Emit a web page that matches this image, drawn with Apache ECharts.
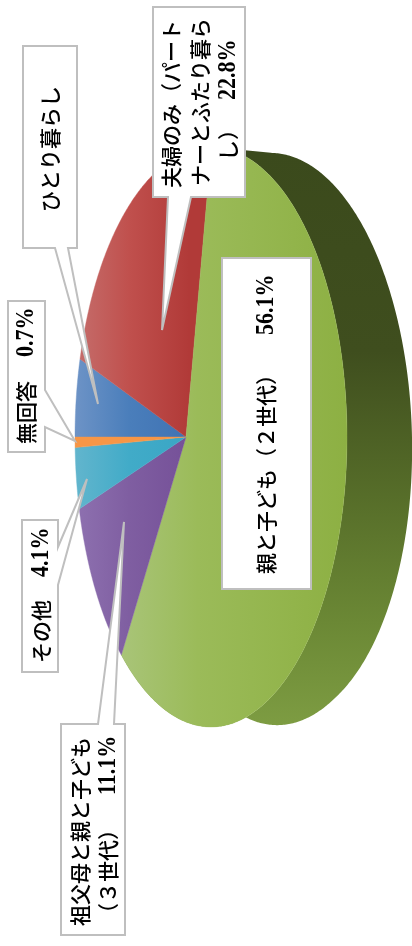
<!DOCTYPE html>
<html lang="ja">
<head>
<meta charset="utf-8">
<title>世帯構成</title>
<style>html,body{margin:0;padding:0;background:#fff}#chart{width:412px;height:946px}</style>
<script src="https://cdn.jsdelivr.net/npm/echarts@6/dist/echarts.min.js"></script>
</head>
<body>
<div id="chart"></div>
<script>
// Household composition, percent of respondents, clockwise from the left edge of the disc.
const categories = ['ひとり暮らし', '夫婦のみ（パートナーとふたり暮らし）', '親と子ども（２世代）', '祖父母と親と子ども（３世代）', 'その他', '無回答'];
const shares = [5.2, 22.8, 56.1, 11.1, 4.1, 0.7];

// Face shading per slice, left to right across the disc.
const faceStops = [
  ['#6d93c6', '#4a7ebb', '#3f72b3'],
  ['#c56e6c', '#c0504d', '#b13a38'],
  ['#abc67e', '#9bbb59', '#8db043'],
  ['#8e71b0', '#7f5ea1', '#755098'],
  ['#62b5cd', '#41abc8', '#39a6c5'],
  ['#f79646', '#f79646', '#f79646']
];

// Perspective view of a flat disc: the right-hand side is nearer the viewer.
const view = { cx: 186, cy: 437, a: 131.4, b: 285, k: 0.1838, depth: 65, depthScale: 0.98, leanX: 0.02, sag: 0.07, sagTo: 330 };
const TAU = Math.PI * 2;
const total = shares.reduce((s, v) => s + v, 0);

function rim(phi) {
  const u = -Math.cos(phi), v = -Math.sin(phi), d = 1 - view.k * u;
  return [view.cx + view.a * u / d, view.cy + view.b * v / d];
}
// The base of the disc sits slightly askew from the top face and sags toward the viewer.
function lowerRim(phi) {
  const p = rim(phi);
  const x = p[0] + view.depth, y = view.cy + (p[1] - view.cy) * view.depthScale;
  const t = Math.max(0, (y - view.cy) / (view.b * view.depthScale));
  return [x + view.leanX * (y - view.cy), y + view.sag * t * Math.max(0, view.sagTo - x)];
}
function span(index) {
  let before = 0;
  for (let i = 0; i < index; i++) before += shares[i];
  return [before / total * TAU, (before + shares[index]) / total * TAU];
}
function arc(fn, from, to) {
  const n = Math.max(4, Math.ceil(Math.abs(to - from) / 0.01));
  const pts = [];
  for (let i = 0; i <= n; i++) pts.push(fn(from + (to - from) * i / n));
  return pts;
}

function renderFace(params, api) {
  const s = span(params.dataIndex);
  const pts = [[view.cx, view.cy]].concat(arc(rim, s[0], s[1]));
  const c = faceStops[params.dataIndex];
  const grad = {
    type: 'linear', global: true, x: 75, y: 0, x2: 347, y2: 0,
    colorStops: params.dataIndex === 2
      ? [{ offset: 0.12, color: c[0] }, { offset: 0.45, color: c[1] }, { offset: 1, color: c[2] }]
      : [{ offset: 0, color: c[0] }, { offset: 0.2, color: c[1] }, { offset: 0.42, color: c[2] }]
  };
  return { type: 'polygon', shape: { points: pts }, style: { fill: grad, stroke: grad, lineWidth: 0.4 } };
}

// The wall is only visible below the largest slice.
function renderWall(params, api) {
  const s = span(api.value(0));
  const pts = arc(rim, s[0], s[1]).concat(arc(lowerRim, s[1], s[0]));
  return {
    type: 'polygon', shape: { points: pts },
    style: {
      fill: {
        type: 'linear', global: true, x: 0, y: 150, x2: 0, y2: 725,
        colorStops: [
          { offset: 0, color: '#3b4a1c' }, { offset: 0.35, color: '#3f4e1e' },
          { offset: 0.6, color: '#566d29' }, { offset: 0.82, color: '#6b8835' },
          { offset: 1, color: '#7d9c42' }
        ]
      }
    }
  };
}

// Callout boxes: each text run starts at its lower end and reads upward.
const pct = v => v + '%';
const callouts = [
  { outline: [[23,46],[77,46],[77,248],[68,248],[98,404],[55,248],[23,248]],
    runs: [{ t: categories[0], x: 50, y: 212 }] },
  { outline: [[153,7],[245,7],[245,197],[191,197],[162,330],[168,197],[153,197]],
    runs: [{ t: '夫婦のみ（パート', x: 171, y: 188 }, { t: 'ナーとふたり暮ら', x: 200, y: 186 },
           { t: 'し）', x: 228, y: 161 }, { t: pct(shares[1]), x: 228, y: 100, num: true }] },
  { outline: [[222,258],[311,258],[311,589],[222,589]],
    runs: [{ t: categories[2], x: 266, y: 574 }, { t: pct(shares[2]), x: 266, y: 335, num: true }] },
  { outline: [[8,301],[45,301],[45,390],[75,441],[45,427],[45,452],[8,452]],
    runs: [{ t: categories[5], x: 26, y: 444 }, { t: pct(shares[5]), x: 26, y: 357, num: true }] },
  { outline: [[22,520],[58,520],[58,547],[87,479],[58,585],[58,672],[22,672]],
    runs: [{ t: categories[4], x: 41, y: 663 }, { t: pct(shares[4]), x: 41, y: 577, num: true }] },
  { outline: [[61,724],[98,724],[124,522],[114,724],[125,724],[125,935],[61,935]],
    runs: [{ t: '祖父母と親と子ども', x: 80, y: 926 }, { t: '（３世代）', x: 108, y: 924 },
           { t: pct(shares[3]), x: 108, y: 795, num: true }] }
];

const elements = [];
callouts.forEach(function (c) {
  elements.push({
    type: 'polygon', z: 100, shape: { points: c.outline },
    style: { fill: '#fff', stroke: '#bfbfbf', lineWidth: 2 }
  });
  c.runs.forEach(function (r) {
    elements.push({
      type: 'text', z: 101, x: r.x, y: r.y, rotation: Math.PI / 2,
      scaleY: r.num ? 1.18 : 1,
      style: {
        text: r.t, fill: '#000', align: 'left', verticalAlign: 'middle',
        fontSize: r.num ? 22 : 21,
        fontWeight: r.num ? 'bold' : 500,
        fontFamily: r.num ? '"Liberation Serif", serif' : '"Noto Sans CJK JP", sans-serif'
      }
    });
  });
});

const chart = echarts.init(document.getElementById('chart'), null, { renderer: 'canvas', width: 412, height: 946 });
chart.setOption({
  animation: false,
  backgroundColor: '#fff',
  graphic: { elements: elements },
  series: [
    { type: 'custom', coordinateSystem: 'none', z: 1, silent: true, data: [[2]], renderItem: renderWall },
    { type: 'custom', coordinateSystem: 'none', z: 2, silent: true,
      data: shares.map((v, i) => ({ name: categories[i], value: [v] })), renderItem: renderFace }
  ]
});
</script>
</body>
</html>
